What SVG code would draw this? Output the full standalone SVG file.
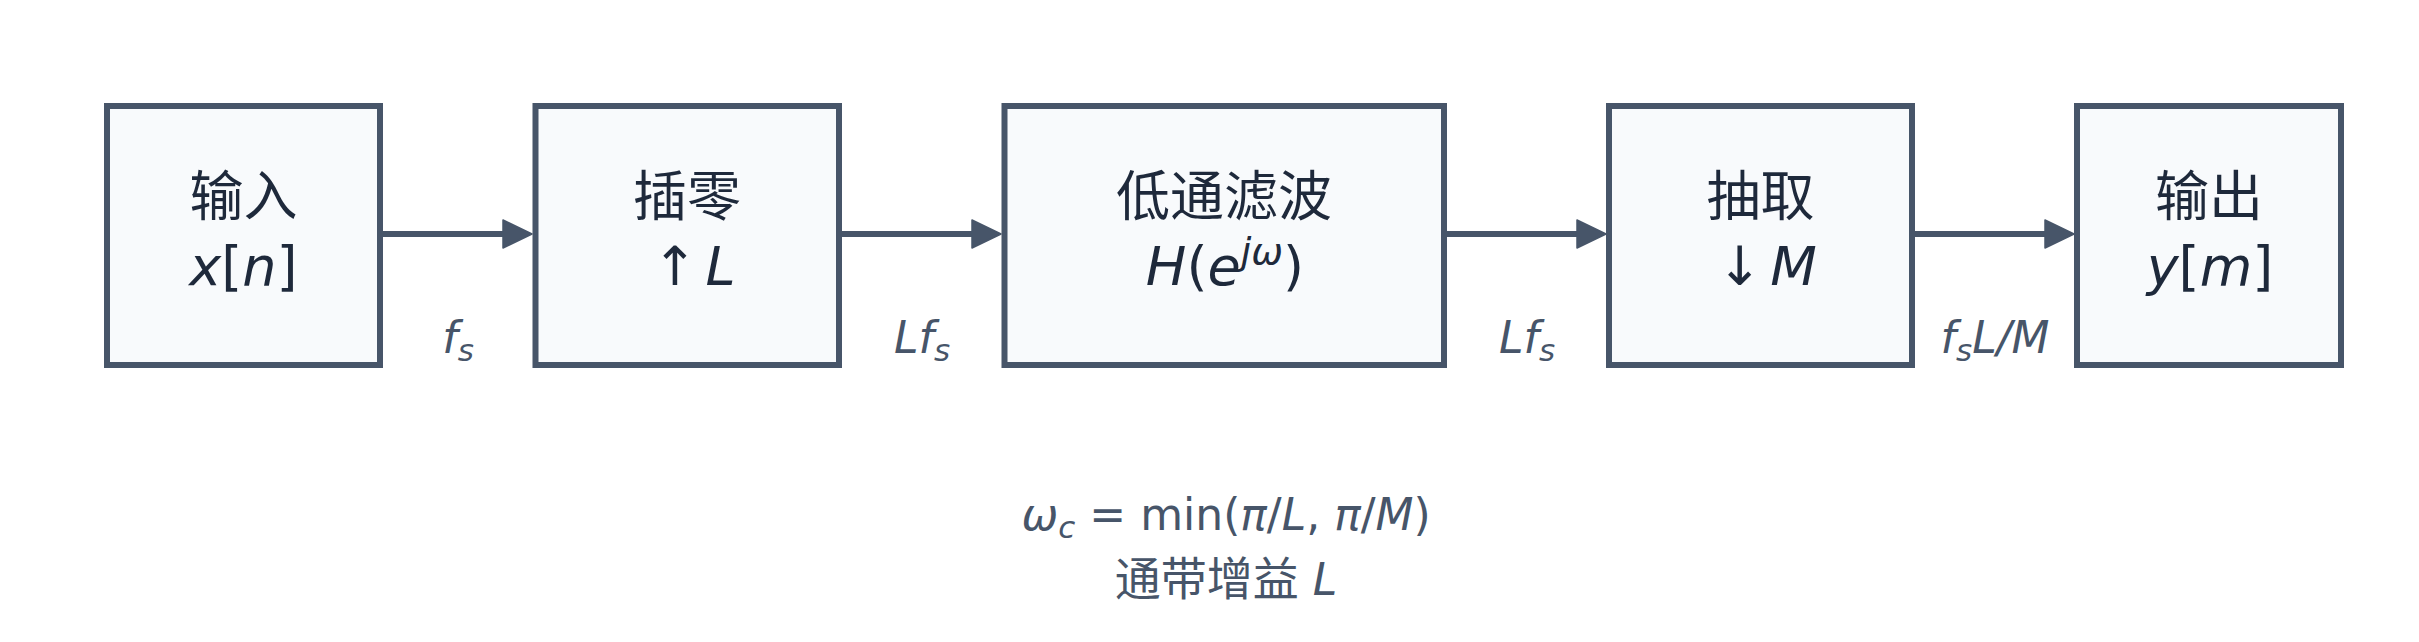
<svg xmlns="http://www.w3.org/2000/svg" width="2419" height="642" viewBox="0 0 2419 642">
  <defs>
    <style>
      .box { fill: #f8fafc; stroke: #475569; stroke-width: 6; }
      .conn { fill: none; stroke: #475569; stroke-width: 6; }
      .cjk { font-family: "Noto Sans CJK SC", "Noto Sans", sans-serif; font-size: 54px; fill: #1e293b; text-anchor: middle; }
      .math { font-family: "DejaVu Sans", sans-serif; font-size: 54px; fill: #1e293b; text-anchor: middle; font-style: italic; }
      .up { font-style: normal; }
      .lbl { font-family: "DejaVu Sans", sans-serif; font-size: 44px; fill: #475569; text-anchor: middle; font-style: italic; }
      .note { font-family: "DejaVu Sans", sans-serif; font-size: 44px; fill: #475569; text-anchor: middle; font-style: italic; }
      .notecjk { font-family: "Noto Sans CJK SC", sans-serif; font-style: normal; font-size: 46px; }
    </style>
    <marker id="ah" markerUnits="userSpaceOnUse" markerWidth="34" markerHeight="34" viewBox="-2 -2 34 34" refX="0" refY="14" orient="auto" overflow="visible">
      <path d="M0,0 L29,14 L0,28 Z" fill="#475569" stroke="#475569" stroke-width="1.5" stroke-linejoin="round"/>
    </marker>
  </defs>
  <rect width="2419" height="642" fill="#ffffff"/>

  <g id="connectors">
    <path class="conn" d="M380,234 H503" marker-end="url(#ah)"/>
    <path class="conn" d="M839,234 H972" marker-end="url(#ah)"/>
    <path class="conn" d="M1444,234 H1577" marker-end="url(#ah)"/>
    <path class="conn" d="M1912,234 H2045" marker-end="url(#ah)"/>
    <text class="lbl" x="458" y="353">f<tspan font-size="31" dy="8">s</tspan></text>
    <text class="lbl" x="922" y="353">Lf<tspan font-size="31" dy="8">s</tspan></text>
    <text class="lbl" x="1527" y="353">Lf<tspan font-size="31" dy="8">s</tspan></text>
    <text class="lbl" x="1995" y="353">f<tspan font-size="31" dy="8">s</tspan><tspan dy="-8">L/M</tspan></text>
  </g>

  <g id="node-input">
    <rect class="box" x="107" y="106" width="273" height="259"/>
    <text class="cjk" x="243.5" y="216">输入</text>
    <text class="math" x="243.5" y="285">x<tspan class="up">[</tspan>n<tspan class="up">]</tspan></text>
  </g>

  <g id="node-upsample">
    <rect class="box" x="535.5" y="106" width="303.5" height="259"/>
    <text class="cjk" x="687" y="216">插零</text>
    <text class="math" x="694" y="285"><tspan class="up">↑</tspan><tspan dx="8">L</tspan></text>
  </g>

  <g id="node-lowpass">
    <rect class="box" x="1004.5" y="106" width="439.5" height="259"/>
    <text class="cjk" x="1224" y="216">低通滤波</text>
    <text class="math" x="1225" y="285">H<tspan class="up">(</tspan>e<tspan font-size="38" dy="-21">jω</tspan><tspan class="up" dy="21">)</tspan></text>
  </g>

  <g id="node-downsample">
    <rect class="box" x="1609" y="106" width="303" height="259"/>
    <text class="cjk" x="1760.5" y="216">抽取</text>
    <text class="math" x="1767" y="285"><tspan class="up">↓</tspan><tspan dx="8">M</tspan></text>
  </g>

  <g id="node-output">
    <rect class="box" x="2077" y="106" width="264" height="259"/>
    <text class="cjk" x="2209" y="216">输出</text>
    <text class="math" x="2210" y="285">y<tspan class="up">[</tspan>m<tspan class="up">]</tspan></text>
  </g>

  <g id="note">
    <text class="note" x="1226" y="530">ω<tspan font-size="31" dy="8">c</tspan><tspan class="up" dy="-8"> = min(</tspan>π<tspan class="up">/</tspan>L<tspan class="up">, </tspan>π<tspan class="up">/</tspan>M<tspan class="up">)</tspan></text>
    <text class="note" x="1226" y="595"><tspan class="notecjk">通带增益</tspan> L</text>
  </g>
</svg>
